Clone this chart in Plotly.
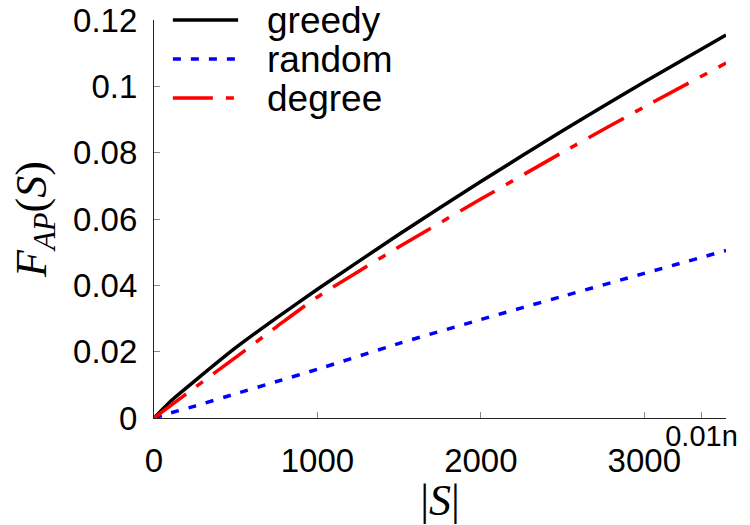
import plotly.graph_objects as go

# data
sizes = [0, 100, 250, 500, 750, 1000, 1500, 2000, 2500, 3000, 3500]
greedy = [0, 0.0050, 0.0112, 0.0212, 0.0302, 0.0388, 0.0554, 0.0713, 0.0866, 0.1013, 0.1155]
random_ = [0, 0.0015, 0.0036, 0.0073, 0.0110, 0.0147, 0.0225, 0.0297, 0.0367, 0.0436, 0.0505]
degree = [0, 0.0037, 0.0092, 0.0183, 0.0275, 0.0365, 0.0516, 0.0660, 0.0801, 0.0938, 0.1070]
series_names = ["greedy", "random", "degree"]
x_ticks = [0, 1000, 2000, 3000]
y_ticks = [0, 0.02, 0.04, 0.06, 0.08, 0.1, 0.12]
y_tick_text = ["0", "0.02", "0.04", "0.06", "0.08", "0.1", "0.12"]
mark_val = 3350
mark_text = "0.01n"

colors = ["#000000", "#0000ff", "#ff0000"]
dashes = ["solid", "8px,10px", "40px,13px,8px,13px"]
values = [greedy, random_, degree]

fig = go.Figure()
for name, vals, c, d in zip(series_names, values, colors, dashes):
    fig.add_trace(go.Scatter(x=sizes, y=vals, mode="lines", name=name,
                             line=dict(color=c, width=3.5, dash=d, shape="spline", smoothing=0.6),
                             showlegend=False))

# xaxis2 dummy trace for the marker tick
fig.add_trace(go.Scatter(x=[mark_val], y=[None], xaxis="x2", yaxis="y", showlegend=False,
                         hoverinfo="skip"))

sans = "Liberation Sans, Arial, sans-serif"
serif = "Liberation Serif, Times New Roman, serif"

fig.update_layout(
    width=750, height=525,
    margin=dict(l=154, r=24, t=20, b=107),
    paper_bgcolor="white", plot_bgcolor="white",
    xaxis=dict(range=[0, 3500], tickvals=x_ticks, ticktext=[str(v) for v in x_ticks],
               showgrid=False, zeroline=False, showline=True, linecolor="#222",
               linewidth=1.2, ticks="inside", ticklen=6, tickcolor="#888", tickwidth=1,
               tickfont=dict(family=sans, size=33, color="black"),
               ticklabelstandoff=13,
               title=dict(text="|<i>S</i>|", font=dict(family=serif, size=44, color="black"),
                          standoff=6),
               automargin=False),
    xaxis2=dict(range=[0, 3500], overlaying="x", anchor="y", side="bottom",
                tickvals=[mark_val], ticktext=[mark_text], showgrid=False, zeroline=False,
                showline=False, ticks="inside", ticklen=6, tickcolor="#888", tickwidth=1,
                tickfont=dict(family=sans, size=29, color="black"),
                ticklabelstandoff=-2, automargin=False),
    yaxis=dict(range=[0, 0.12], tickvals=y_ticks, ticktext=y_tick_text,
               showgrid=False, zeroline=False, showline=True, linecolor="#222",
               linewidth=1.2, ticks="inside", ticklen=6, tickcolor="#888", tickwidth=1,
               tickfont=dict(family=sans, size=33, color="black"),
               ticklabelstandoff=9,
               title=dict(text="<i>F</i><sub><i>AP</i></sub>(<i>S</i>)",
                          font=dict(family=serif, size=44, color="black"), standoff=12),
               automargin=False),
)

# custom legend
leg_y = [1.0, 0.902, 0.804]
for name, c, d, ly in zip(series_names, colors, dashes, leg_y):
    fig.add_shape(type="line", xref="paper", yref="paper", x0=0.033, x1=0.147, y0=ly, y1=ly,
                  line=dict(color=c, width=3.5, dash=d))
    fig.add_annotation(xref="paper", yref="paper", x=0.194, y=ly, text=name, showarrow=False,
                       xanchor="left", yanchor="middle",
                       font=dict(family=sans, size=37, color="black"))

fig.write_html("out.html")
